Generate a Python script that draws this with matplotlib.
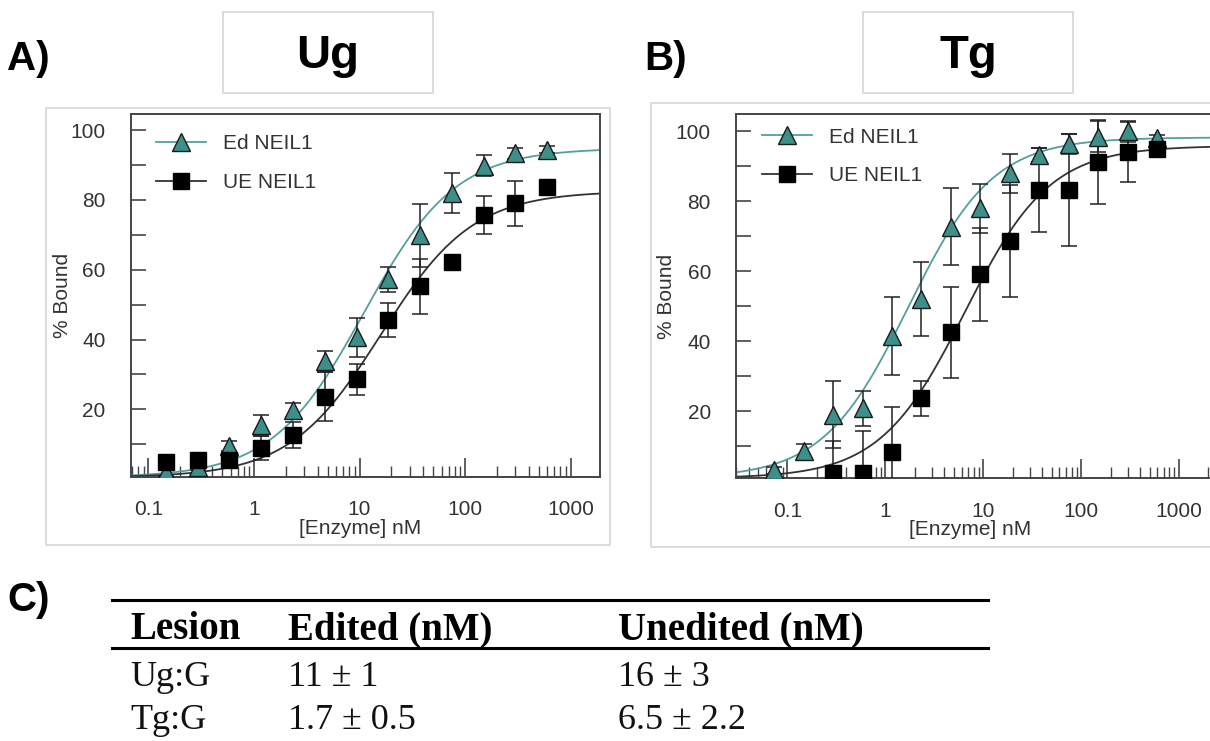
import numpy as np
import matplotlib.pyplot as plt
from matplotlib.patches import Rectangle
from matplotlib.lines import Line2D

# ---- data ----
conc_a = [0.146, 0.293, 0.586, 1.17, 2.34, 4.69, 9.38, 18.75, 37.5, 75, 150, 300, 600]
ed_a = [2.0, 3.5, 9.5, 15.5, 19.8, 33.8, 40.6, 57.2, 69.8, 82.0, 89.8, 93.3, 94.3]
ed_a_err = [1.0, 1.0, 1.5, 3.0, 2.0, 3.0, 5.5, 3.5, 9.0, 5.8, 3.0, 1.5, 1.0]
ue_a = [5.0, 5.6, 5.4, 9.0, 12.6, 23.6, 28.6, 45.6, 55.2, 62.3, 75.7, 79.0, 83.8]
ue_a_err = [1.0, 1.0, 1.5, 3.5, 3.8, 7.0, 4.5, 5.0, 7.8, 0.8, 5.4, 6.4, 1.5]

conc_b = [0.0732, 0.146, 0.293, 0.586, 1.17, 2.34, 4.69, 9.38, 18.75, 37.5, 75, 150, 300, 600]
ed_b = [3.1, 8.7, 19.0, 20.8, 41.5, 52.0, 72.7, 77.9, 87.9, 93.3, 96.3, 98.4, 100.0, 98.0]
ed_b_err = [1.0, 2.0, 9.5, 5.0, 11.2, 10.5, 11.0, 7.0, 5.5, 2.0, 2.8, 4.5, 3.0, 1.0]
conc_b_ue = [0.293, 0.586, 1.17, 2.34, 4.69, 9.38, 18.75, 37.5, 75, 150, 300, 600]
ue_b = [2.4, 2.4, 8.2, 23.6, 42.5, 59.1, 68.7, 83.1, 83.1, 91.2, 94.1, 95.0]
ue_b_err = [9.0, 12.0, 13.0, 5.0, 13.0, 13.3, 16.0, 12.0, 16.0, 12.0, 8.5, 1.5]

# table values (Kd, nM) -- also used for the fitted binding curves
lesions = ["Ug:G", "Tg:G"]
kd_edited = [11, 1.7]
kd_edited_err = [1, 0.5]
kd_unedited = [16, 6.5]
kd_unedited_err = [3, 2.2]
# plateau / baseline of the fits, estimated from the curves
top_edited = [94.8, 98.2]
top_unedited = [82.5, 95.8]
bottom_fit = [0.5, 0.8]

teal_fill = "#3d8f8a"
teal_line = "#52a09c"
txt = "#333333"

plt.rcParams['font.family'] = ['Liberation Sans', 'DejaVu Sans']

fig = plt.figure(figsize=(12.1, 7.41), dpi=100)
W, H = 1210.0, 741.0


def px_axes(l, t, r, b):
    return fig.add_axes([l / W, 1 - b / H, (r - l) / W, (b - t) / H])


def frame(l, t, r, b):
    fig.patches.append(Rectangle((l / W, 1 - b / H), (r - l) / W, (b - t) / H,
                                 transform=fig.transFigure, fill=False,
                                 edgecolor="#d6d6d6", lw=1.2))


def hill(x, kd, top, bot):
    return bot + (top - bot) * x / (kd + x)


def panel(ax, i, xed, yed, eed, xue, yue, eue, xlim, ylim, leg_y, xlab_y):
    xs = np.logspace(np.log10(xlim[0]), np.log10(xlim[1]), 300)
    ax.plot(xs, hill(xs, kd_edited[i], top_edited[i], bottom_fit[i]), color=teal_line, lw=1.3, zorder=2)
    ax.plot(xs, hill(xs, kd_unedited[i], top_unedited[i], bottom_fit[i]), color="#333333", lw=1.3, zorder=2)
    ax.errorbar(xed, yed, yerr=eed, fmt='none', ecolor="#222222", elinewidth=1.1, capsize=6, capthick=1.1, zorder=3)
    ax.errorbar(xue, yue, yerr=eue, fmt='none', ecolor="#222222", elinewidth=1.1, capsize=6, capthick=1.1, zorder=3)
    ax.plot(xed, yed, ls='none', marker='^', ms=13, mfc=teal_fill, mec="#1a1a1a", mew=1.0, zorder=4)
    ax.plot(xue, yue, ls='none', marker='s', ms=11.5, mfc="black", mec="black", zorder=5)

    h1 = Line2D([], [], color=teal_line, lw=1.3, marker='^', ms=13, mfc=teal_fill, mec="#1a1a1a")
    h2 = Line2D([], [], color="#333333", lw=1.3, marker='s', ms=11.5, mfc="black", mec="black")
    ax.legend([h1, h2], ["Ed NEIL1", "UE NEIL1"], loc='center left', bbox_to_anchor=(0.054, leg_y),
              frameon=False, fontsize=15, handlelength=2.4, labelspacing=0.95,
              handletextpad=0.8, borderpad=0, borderaxespad=0, labelcolor=txt)

    ax.set_xscale('log')
    ax.set_xlim(*xlim)
    ax.set_ylim(*ylim)
    ax.set_yticks([20, 40, 60, 80, 100])
    ax.set_yticks([10, 30, 50, 70, 90], minor=True)
    ax.set_xticks([0.1, 1, 10, 100, 1000])
    ax.set_xticklabels(["0.1", "1", "10", "100", "1000"])
    ax.tick_params(axis='y', which='both', direction='in', length=11, width=1.2,
                   color="#444444", labelsize=15, labelcolor=txt, pad=18)
    ax.tick_params(axis='x', which='major', direction='in', length=14, width=1.2,
                   color="#444444", labelsize=15, labelcolor=txt, pad=17)
    ax.tick_params(axis='x', which='minor', direction='in', length=8, width=1.0, color="#444444")
    for s in ax.spines.values():
        s.set_color("#444444")
        s.set_linewidth(1.4)
    ax.set_ylabel("% Bound", fontsize=15, color=txt)
    ax.yaxis.set_label_coords(-0.125, 0.5)
    ax.set_xlabel("[Enzyme] nM", fontsize=15, color=txt)
    ax.xaxis.set_label_coords(0.489, xlab_y)


# panel A
frame(46, 108, 610, 545)
axA = px_axes(130.7, 114, 599.7, 476.7)
panel(axA, 0, conc_a, ed_a, ed_a_err, conc_a, ue_a, ue_a_err, (0.068, 1884), (0.7, 104.6), 0.864, -0.118)

# panel B
frame(651, 103, 1220, 547)
axB = px_axes(736, 114, 1215, 478)
panel(axB, 1, conc_b, ed_b, ed_b_err, conc_b_ue, ue_b, ue_b_err, (0.0298, 2334), (0.86, 104.9), 0.883, -0.116)
axB.spines['right'].set_visible(False)

# title boxes
frame(223, 12, 433, 93)
frame(863, 12, 1073, 93)
fig.text(328 / W, 1 - 68 / H, "Ug", fontsize=34, fontweight='bold', ha='center', va='baseline')
fig.text(968 / W, 1 - 68 / H, "Tg", fontsize=34, fontweight='bold', ha='center', va='baseline')

fig.text(7 / W, 1 - 70 / H, "A)", fontsize=29, fontweight='bold', ha='left', va='baseline')
fig.text(644 / W, 1 - 70 / H, "B)", fontsize=29, fontweight='bold', ha='left', va='baseline')
fig.text(7 / W, 1 - 611 / H, "C)", fontsize=29, fontweight='bold', ha='left', va='baseline')

# table C
serif = ['Liberation Serif', 'DejaVu Serif']
for y in (599.5, 647.7):
    fig.add_artist(Line2D([112 / W, 988 / W], [1 - y / H, 1 - y / H], color="black", lw=2.2,
                          transform=fig.transFigure))
col_x = [130, 288, 618]
headers = ["Lesion", "Edited (nM)", "Unedited (nM)"]
for x, h in zip(col_x, headers):
    fig.text(x / W, 1 - 639 / H, h, fontsize=28, fontweight='bold', family=serif, ha='left', va='baseline')
row_y = [686, 729]
for i, lesion in enumerate(lesions):
    y = 1 - row_y[i] / H
    fig.text(col_x[0] / W, y, lesion, fontsize=26, family=serif, ha='left', va='baseline', color="#111111")
    fig.text(col_x[1] / W, y, f"{kd_edited[i]} \u00b1 {kd_edited_err[i]}", fontsize=26, family=serif,
             ha='left', va='baseline', color="#111111")
    fig.text(col_x[2] / W, y, f"{kd_unedited[i]} \u00b1 {kd_unedited_err[i]}", fontsize=26, family=serif,
             ha='left', va='baseline', color="#111111")

fig.savefig("out.png", dpi=100)
